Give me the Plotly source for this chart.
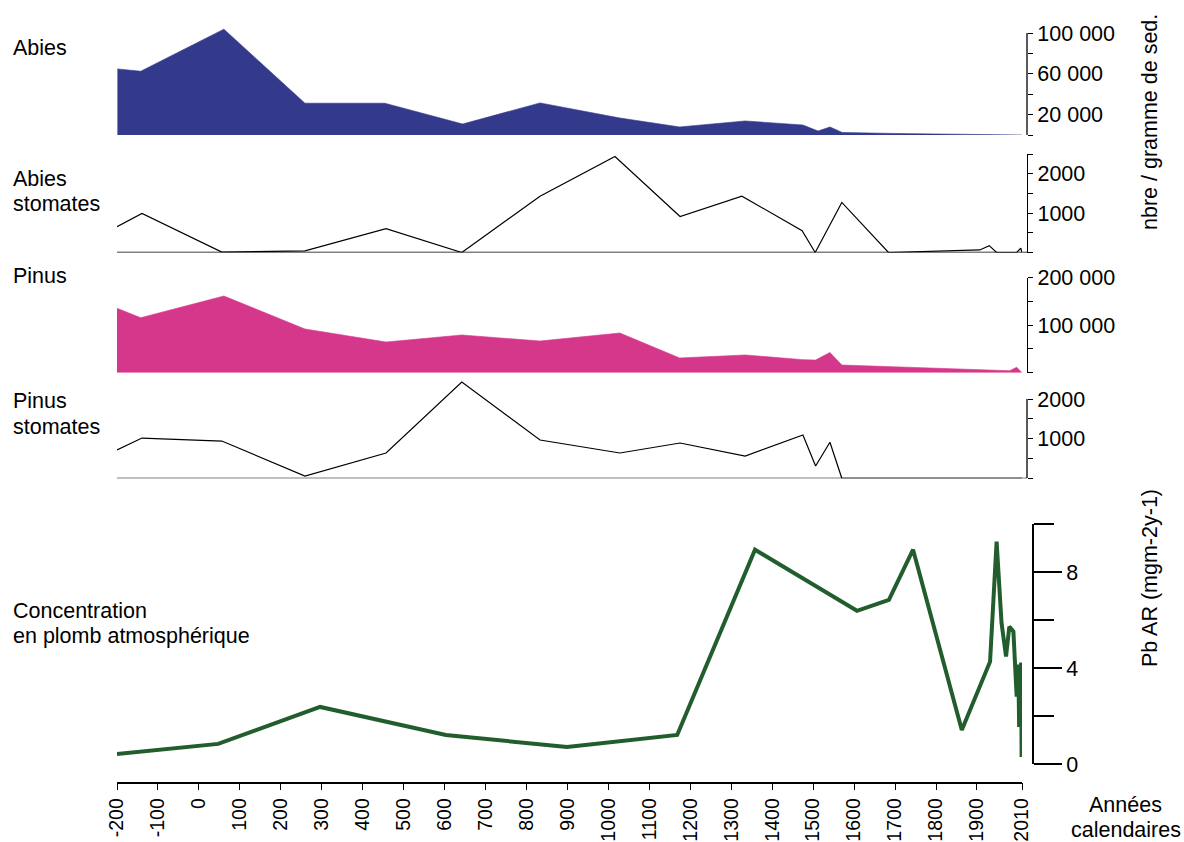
import plotly.graph_objects as go

# ---------------------------------------------------------------- data
# Abies pollen concentration (grains / g of sediment)
abies_years = [-199, -142, 61, 259, 454, 644, 833, 1028, 1174, 1334, 1475,
               1512, 1541, 1571, 1700, 1850, 1950, 2010]
abies_counts = [64900, 62600, 103900, 31200, 31200, 10800, 31500, 16700, 7900,
                13800, 9800, 3900, 7900, 2500, 1500, 800, 300, 0]

# Abies stomata
abies_stom_years = [-200, -139, 56, 259, 457, 642, 833, 1016, 1175, 1326, 1473,
                    1505, 1570, 1684, 1907, 1930, 1948, 1997, 2007, 2010]
abies_stom = [657, 992, 10, 40, 606, 0, 1430, 2435, 915, 1430, 554,
              0, 1270, 0, 65, 175, 0, 0, 110, 0]

# Pinus pollen concentration (grains / g of sediment)
pinus_years = [-200, -142, 61, 259, 457, 642, 833, 1028, 1174, 1334, 1475,
               1506, 1541, 1570, 1980, 1997, 2010]
pinus_counts = [135600, 115800, 161500, 92000, 64600, 79400, 66700, 83600,
                31000, 37300, 27500, 26700, 42700, 16200, 4200, 11400, 0]

# Pinus stomata
pinus_stom_years = [-200, -139, 56, 259, 457, 642, 833, 1028, 1175, 1334, 1475,
                    1506, 1541, 1570, 2010]
pinus_stom = [714, 1016, 940, 58, 638, 2430, 966, 638, 890, 562, 1092,
              310, 908, 0, 0]

# Atmospheric lead accumulation rate (mg m-2 y-1)
pb_years = [-200, 47, 296, 603, 899, 1168, 1358, 1607, 1685, 1744, 1863, 1932,
            1948, 1960, 1971, 1979, 1989, 1997, 2001, 2003, 2008, 2009]
pb_rate = [0.42, 0.84, 2.38, 1.21, 0.71, 1.21, 8.94, 6.39, 6.85, 8.94, 1.42,
           4.27, 9.28, 5.89, 4.48, 5.73, 5.53, 2.81, 4.15, 1.54, 4.23, 0.29]

# x-axis ticks (calendar years)
year_ticks = [-200, -100, 0, 100, 200, 300, 400, 500, 600, 700, 800, 900,
              1000, 1100, 1200, 1300, 1400, 1500, 1600, 1700, 1800, 1900, 2010]

# ---------------------------------------------------------------- style
W, H = 1184, 842
FONT = "Liberation Sans, Arial, sans-serif"
FS = 21.5
ABIES_COLOR = "#33398B"
PINUS_COLOR = "#D5388A"
PB_COLOR = "#225E2D"


def fx(p):
    return p / W


def fy(p):
    return 1 - p / H


TOP_AXIS_X = fx(1027)
PB_AXIS_X = fx(1033)
LEFT_X = fx(117)

fig = go.Figure()

fig.add_trace(go.Scatter(
    x=abies_years, y=abies_counts, mode="lines", fill="tozeroy",
    line=dict(color=ABIES_COLOR, width=0.6), fillcolor=ABIES_COLOR,
    yaxis="y", hoverinfo="skip"))

fig.add_trace(go.Scatter(
    x=abies_stom_years, y=abies_stom, mode="lines",
    line=dict(color="black", width=1.2), yaxis="y2", hoverinfo="skip"))

fig.add_trace(go.Scatter(
    x=pinus_years, y=pinus_counts, mode="lines", fill="tozeroy",
    line=dict(color=PINUS_COLOR, width=0.6), fillcolor=PINUS_COLOR,
    yaxis="y3", hoverinfo="skip"))

fig.add_trace(go.Scatter(
    x=pinus_stom_years, y=pinus_stom, mode="lines",
    line=dict(color="black", width=1.2), yaxis="y4", hoverinfo="skip"))

fig.add_trace(go.Scatter(
    x=pb_years, y=pb_rate, mode="lines",
    line=dict(color=PB_COLOR, width=4), yaxis="y5", hoverinfo="skip"))


def right_axis(dom_px, rng, tickvals, ticktext, pos, showline=True,
               lw=1.3, ticklen=5, tickwidth=1.2):
    return dict(
        domain=[fy(dom_px[1]), fy(dom_px[0])], range=rng,
        anchor="free", position=pos, side="right",
        showline=showline, linecolor="black", linewidth=lw,
        ticks="outside", ticklen=ticklen, tickwidth=tickwidth,
        tickcolor="black", tickmode="array", tickvals=tickvals,
        ticktext=ticktext, tickfont=dict(family=FONT, size=FS, color="black"),
        showgrid=False, zeroline=False, automargin=False, fixedrange=True)


fig.update_layout(
    width=W, height=H,
    margin=dict(l=0, r=0, t=0, b=0),
    paper_bgcolor="white", plot_bgcolor="white",
    showlegend=False,
    font=dict(family=FONT, size=FS, color="black"),
    xaxis=dict(
        domain=[LEFT_X, fx(1022)], range=[-200, 2010],
        anchor="free", position=fy(782.7),
        showline=True, linecolor="black", linewidth=1.5,
        ticks="outside", ticklen=7, tickwidth=1.3, tickcolor="black",
        tickmode="array", tickvals=year_ticks,
        ticktext=[str(v) for v in year_ticks], tickangle=-90,
        tickfont=dict(family=FONT, size=19.5, color="black"),
        showgrid=False, zeroline=False, automargin=False),
    # Abies: the 100 000 peak rises a little above the top tick
    yaxis=right_axis((26.5, 135), [0, 106500],
                     [0, 20000, 40000, 60000, 80000, 100000],
                     ["", "20 000", "", "60 000", "", "100 000"], TOP_AXIS_X,
                     showline=False),
    yaxis2=right_axis((154, 252.5), [0, 2500],
                      [0, 500, 1000, 1500, 2000, 2500],
                      ["", "", "1000", "", "2000", ""], TOP_AXIS_X),
    yaxis3=right_axis((277.7, 372.7), [0, 200000],
                      [0, 50000, 100000, 150000, 200000],
                      ["", "", "100 000", "", "200 000"], TOP_AXIS_X),
    yaxis4=right_axis((379.2, 478.3), [0, 2500],
                      [0, 500, 1000, 1500, 2000],
                      ["", "", "1000", "", "2000"], TOP_AXIS_X,
                      showline=False),
    yaxis5=dict(
        right_axis((524.3, 764), [0, 10], [0, 4, 8], ["0", "4", "8"],
                   PB_AXIS_X, lw=2, ticklen=28, tickwidth=2),
        minor=dict(tickmode="array", tickvals=[2, 6, 10], ticks="outside",
                   ticklen=20, tickwidth=2, tickcolor="black",
                   showgrid=False)),
)

# baselines of the stomata panels and the axis lines that stop at the top tick
axis_line = dict(color="black", width=1.3)
shapes = [
    dict(type="line", xref="paper", yref="y2", x0=LEFT_X, x1=TOP_AXIS_X,
         y0=0, y1=0, line=axis_line),
    dict(type="line", xref="paper", yref="y4", x0=LEFT_X, x1=TOP_AXIS_X,
         y0=0, y1=0, line=axis_line),
    dict(type="line", xref="paper", yref="y4", x0=TOP_AXIS_X, x1=TOP_AXIS_X,
         y0=0, y1=2000, line=axis_line),
    dict(type="line", xref="paper", yref="y", x0=TOP_AXIS_X, x1=TOP_AXIS_X,
         y0=0, y1=100000, line=axis_line),
]
fig.update_layout(shapes=shapes)


def label(text, x_px, y_px, xanchor="left", angle=0):
    return dict(text=text, x=fx(x_px), y=fy(y_px), xref="paper",
                yref="paper", xanchor=xanchor, yanchor="middle",
                showarrow=False, textangle=angle,
                font=dict(family=FONT, size=FS, color="black"))


annotations = [
    label("Abies", 11, 48),
    label("Abies", 11, 179),
    label("stomates", 11, 204),
    label("Pinus", 11, 276),
    label("Pinus", 11, 401),
    label("stomates", 11, 427),
    label("Concentration", 11, 611),
    label("en plomb atmosphérique", 11, 636),
    label("nbre / gramme de sed.", 1150, 122, xanchor="center", angle=-90),
    label("Pb AR (mgm-2y-1)", 1150, 578, xanchor="center", angle=-90),
    label("Années", 1125, 805, xanchor="center"),
    label("calendaires", 1126, 830, xanchor="center"),
]
fig.update_layout(annotations=annotations)

fig.write_html("out.html")
